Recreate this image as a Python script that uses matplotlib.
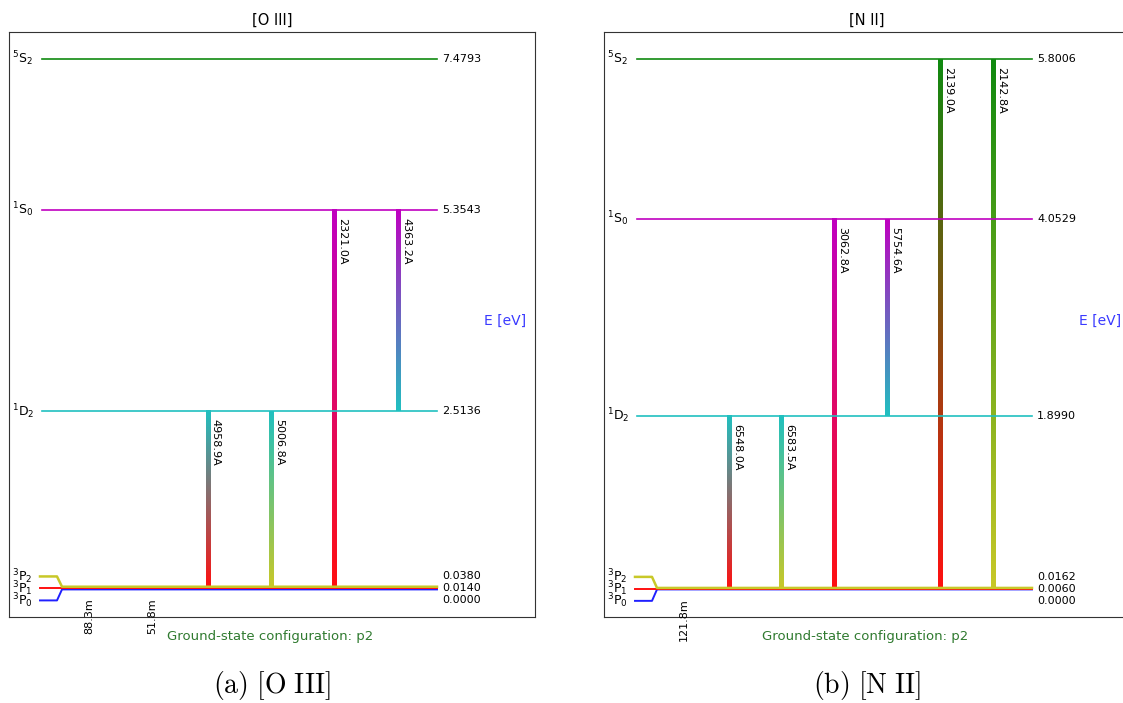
import numpy as np
import matplotlib
matplotlib.use('Agg')
import matplotlib.pyplot as plt
from matplotlib.colors import to_rgb

plt.rcParams['mathtext.fontset'] = 'dejavusans'

# level names / colours (shared by both ions, same p2 configuration)
level_names = ['$^3$P$_0$', '$^3$P$_1$', '$^3$P$_2$', '$^1$D$_2$', '$^1$S$_0$', '$^5$S$_2$']
level_colors = ['#2020ff', '#ff1010', '#c8c828', '#20c0c0', '#c000c0', '#108a10']

# [O III]
o3_energy = [0.0000, 0.0140, 0.0380, 2.5136, 5.3543, 7.4793]
o3_upper = [1, 2, 3, 3, 4, 4]
o3_lower = [0, 1, 1, 2, 1, 3]
o3_wave = ['88.3m', '51.8m', '4958.9A', '5006.8A', '2321.0A', '4363.2A']

# [N II]
n2_energy = [0.0000, 0.0060, 0.0162, 1.8990, 4.0529, 5.8006]
n2_upper = [1, 3, 3, 4, 4, 5, 5]
n2_lower = [0, 1, 2, 1, 3, 1, 2]
n2_wave = ['121.8m', '6548.0A', '6583.5A', '3062.8A', '5754.6A', '2139.0A', '2142.8A']


def gradient_line(ax, x, y_top, y_bot, c_top, c_bot, n=200, half_w=2.3):
    c0, c1 = np.array(to_rgb(c_top)), np.array(to_rgb(c_bot))
    t = np.linspace(0, 1, n)[:, None]
    img = ((1 - t) * c0 + t * c1)[:, None, :]
    # row 0 at top (origin='upper' maps first row to y_top)
    ax.imshow(img, extent=[x - half_w, x + half_w, y_bot, y_top], aspect='auto',
              interpolation='bilinear', zorder=1)


def draw(ax, energy, upper, lower, wave, title):
    emax = max(energy)
    ax.set_xticks([]); ax.set_yticks([])
    for s in ax.spines.values():
        s.set_color('#333333')

    # ground term labels are spread apart so they stay readable
    spread = 0.0226 * emax
    ylab = list(energy)
    ylab[0] = energy[1] - spread
    ylab[2] = energy[1] + spread

    for i, E in enumerate(energy):
        col = level_colors[i]
        if i < 3:
            ax.plot([31, 48, 53, 428], [ylab[i], ylab[i], E, E], color=col,
                    lw=1.8 if i == 2 else 1.4, zorder=2)
        else:
            ax.plot([33, 428], [E, E], color=col, lw=1.2, zorder=2)
        ax.text(3, ylab[i], level_names[i], ha='left', va='center', fontsize=9)
        ax.text(433, ylab[i], '%.4f' % E, ha='left', va='center', fontsize=8)

    xs = np.linspace(72, 389, len(wave))
    for x, u, l, lab in zip(xs, upper, lower, wave):
        gradient_line(ax, x, energy[u], energy[l], level_colors[u], level_colors[l])
        if lab.endswith('m'):
            ax.text(x + 3, -0.017 * emax, lab, rotation=90, ha='left', va='top',
                    fontsize=8, clip_on=False)
        else:
            ax.text(x + 3, energy[u] - 0.015 * emax, lab, rotation=270,
                    ha='left', va='top', fontsize=8)

    ax.set_xlim(0, 526)
    ax.set_ylim(-0.052 * emax, 1.051 * emax)

    ax.text(496, 0.506, 'E [eV]', transform=ax.get_xaxis_transform(),
            ha='center', va='center', fontsize=10, color='#3a3aff')
    ax.text(0.496, -0.033, 'Ground-state configuration: p2', transform=ax.transAxes,
            ha='center', va='center', fontsize=9.5, color='#2f7a2f')
    ax.set_title(title, fontsize=10.5, pad=5)


fig = plt.figure(figsize=(11.23, 7.03), dpi=100)
W, H = 1123, 703
ax1 = fig.add_axes([9 / W, 86 / H, 526 / W, 585 / H])
ax2 = fig.add_axes([604 / W, 86 / H, 526 / W, 585 / H])

draw(ax1, o3_energy, o3_upper, o3_lower, o3_wave, '[O III]')
draw(ax2, n2_energy, n2_upper, n2_lower, n2_wave, '[N II]')

fig.text(272 / W, 1 - 686 / H, r'$\mathrm{(a)\ [O\ III]}$', ha='center', va='center',
         fontsize=20, math_fontfamily='cm')
fig.text(867 / W, 1 - 686 / H, r'$\mathrm{(b)\ [N\ II]}$', ha='center', va='center',
         fontsize=20, math_fontfamily='cm')

fig.savefig('out.png', dpi=100)
